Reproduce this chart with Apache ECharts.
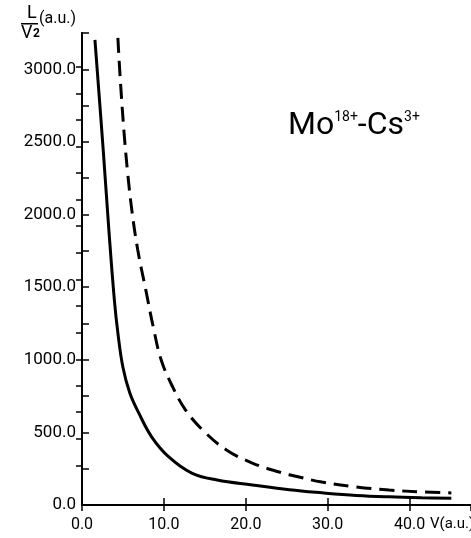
<!DOCTYPE html>
<html>
<head>
<meta charset="utf-8">
<script src="https://cdn.jsdelivr.net/npm/echarts@6/dist/echarts.min.js"></script>
<style>
  html, body { margin: 0; padding: 0; background: #fff; }
  #main { width: 471px; height: 538px; }
</style>
</head>
<body>
<div id="main"></div>
<script>
// values: [V, L/V^2]
var solidCurve = [
  [1.58, 3202], [2.59, 2445], [3.28, 1894], [3.95, 1412], [4.38, 1185], [4.99, 950],
  [5.84, 771], [6.93, 634], [8.52, 468], [10.6, 331], [13.4, 220], [16.5, 172],
  [20.8, 138], [25.3, 105], [29.3, 84], [33.5, 66], [37.5, 56], [41.5, 50], [45.1, 47]
];
var dashedCurve = [
  [4.38, 3216], [4.68, 2927], [5.11, 2583], [5.54, 2307], [6.08, 2032], [6.81, 1756],
  [7.79, 1481], [8.70, 1226], [9.67, 999], [11.07, 813], [12.65, 654], [14.72, 517],
  [17.64, 379], [20.8, 289], [24.1, 227], [26.5, 193], [29.3, 158], [33.5, 124],
  [37.5, 103], [41.5, 90], [45.1, 83]
];
var rightTicks = [270, 455, 640, 820, 1000, 1185, 1370, 1550, 1735, 1920, 2100, 2285, 2470, 2650, 2835, 3020];

var chart = echarts.init(document.getElementById('main'), null, { renderer: 'canvas' });

var fontFam = 'Roboto, "DejaVu Sans", sans-serif';
var axisLine = { show: true, lineStyle: { color: '#000', width: 2 } };

var option = {
  backgroundColor: '#fff',
  animation: false,
  grid: { left: 82, right: -1, top: 33, bottom: 33 },
  title: {
    left: 283,
    top: 101,
    text: '{b|Mo}{s|18+}{b|-Cs}{s|3+}',
    textStyle: {
      rich: {
        b: { fontFamily: fontFam, fontSize: 32, fontWeight: 'normal', color: '#000', lineHeight: 40 },
        s: { fontFamily: fontFam, fontSize: 14, fontWeight: 'normal', color: '#000', lineHeight: 40, padding: [0, 0, 17, 0] }
      }
    }
  },
  xAxis: [
    {
      type: 'value',
      min: 0,
      max: 47.5,
      interval: 10,
      axisLine: axisLine,
      axisTick: { inside: true, length: 7, lineStyle: { color: '#000', width: 1.5 } },
      splitLine: { show: false },
      axisLabel: {
        showMaxLabel: false,
        margin: 12,
        color: '#000',
        fontFamily: fontFam,
        fontSize: 16,
        formatter: function (v) { return v % 10 === 0 ? v.toFixed(1) : ''; }
      }
    },
    {
      type: 'value',
      position: 'top',
      min: 0,
      max: 47.5,
      interval: 10,
      axisLine: axisLine,
      axisTick: { inside: true, length: 6, lineStyle: { color: '#000', width: 1.5 } },
      axisLabel: { show: false },
      splitLine: { show: false }
    }
  ],
  yAxis: [
    {
      type: 'value',
      min: 0,
      max: 3250,
      interval: 250,
      axisLine: axisLine,
      axisTick: { inside: true, length: 7, lineStyle: { color: '#000', width: 1.5 } },
      splitLine: { show: false },
      axisLabel: {
        margin: 6,
        color: '#000',
        fontFamily: fontFam,
        fontSize: 17,
        formatter: function (v) { return v % 500 === 0 ? v.toFixed(1) : ''; }
      }
    },
    {
      type: 'value',
      position: 'right',
      min: 0,
      max: 3250,
      axisLine: axisLine,
      axisTick: { inside: true, length: 6, customValues: rightTicks, lineStyle: { color: '#000', width: 1.5 } },
      axisLabel: { show: false },
      splitLine: { show: false }
    }
  ],
  graphic: [
    { type: 'text', left: 27, top: 4, style: { text: 'L', font: '18px Roboto, sans-serif', fill: '#000' } },
    { type: 'rect', left: 21, top: 23, shape: { width: 17, height: 1.5 }, style: { fill: '#000' } },
    { type: 'text', left: 21, top: 24, style: { text: 'V', font: '18px Roboto, sans-serif', fill: '#000' } },
    { type: 'text', left: 33, top: 28, style: { text: '2', font: 'bold 12px Roboto, sans-serif', fill: '#000' } },
    { type: 'text', left: 39, top: 11, style: { text: '(a.u.)', font: '16px Roboto, sans-serif', fill: '#000' } },
    { type: 'text', left: 430, top: 517, style: { text: 'V(a.u.)', font: '15px Roboto, sans-serif', fill: '#000' } }
  ],
  series: [
    {
      name: 'solid',
      type: 'line',
      data: solidCurve,
      smooth: 0.4,
      showSymbol: false,
      lineStyle: { color: '#000', width: 3 }
    },
    {
      name: 'dashed',
      type: 'line',
      data: dashedCurve,
      smooth: 0.4,
      showSymbol: false,
      lineStyle: { color: '#000', width: 3, type: [15, 8] }
    }
  ]
};

chart.setOption(option);
</script>
</body>
</html>
